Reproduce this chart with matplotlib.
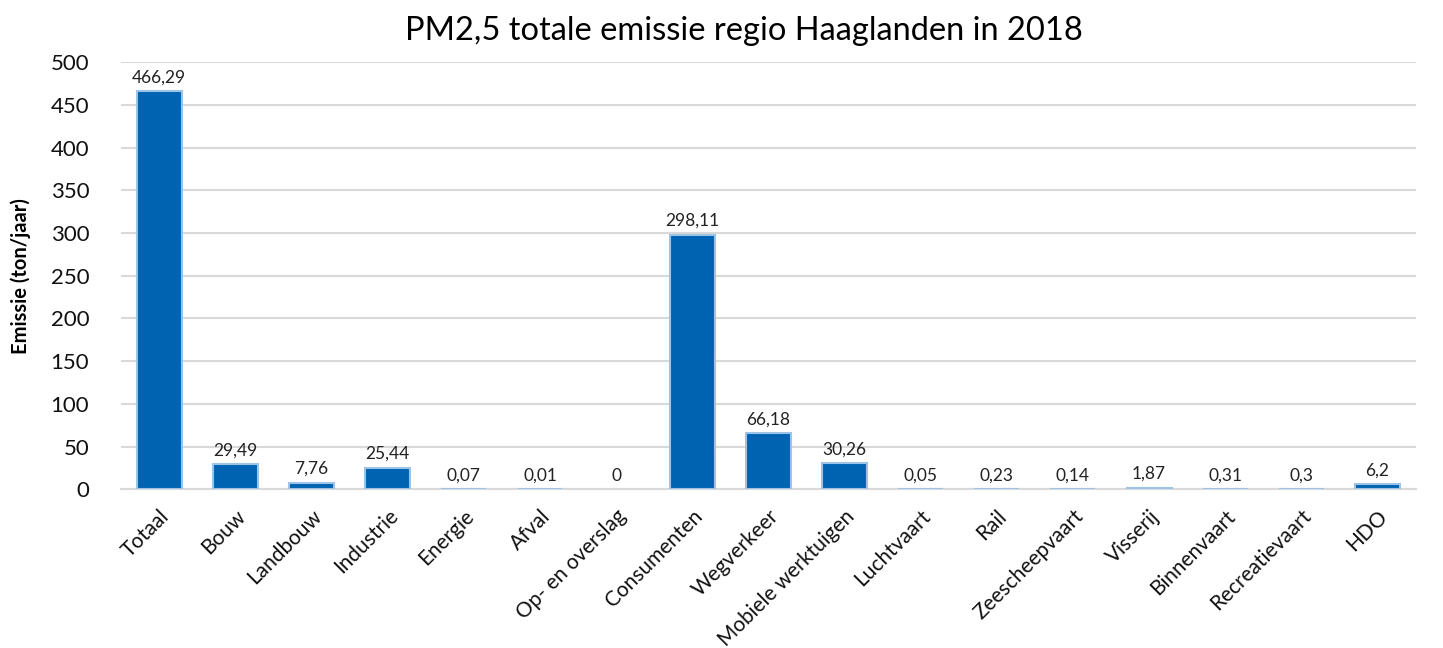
import matplotlib
matplotlib.use("Agg")
import matplotlib.pyplot as plt

# data
categories = ["Totaal", "Bouw", "Landbouw", "Industrie", "Energie", "Afval",
              "Op- en overslag", "Consumenten", "Wegverkeer", "Mobiele werktuigen",
              "Luchtvaart", "Rail", "Zeescheepvaart", "Visserij", "Binnenvaart",
              "Recreatievaart", "HDO"]
values = [466.29, 29.49, 7.76, 25.44, 0.07, 0.01, 0, 298.11, 66.18, 30.26,
          0.05, 0.23, 0.14, 1.87, 0.31, 0.3, 6.2]
yticks = [0, 50, 100, 150, 200, 250, 300, 350, 400, 450, 500]

plt.rcParams["font.family"] = ["Lato", "DejaVu Sans"]

fig = plt.figure(figsize=(14.43, 6.48), dpi=100)
ax = fig.add_axes([0.084, 0.245, 0.897, 0.659])

x = range(len(categories))
edges = ["#9DC3E6" if v > 0 else "none" for v in values]
ax.bar(x, values, width=0.59, color="#0063B1", edgecolor=edges,
       linewidth=1.5, zorder=3)

for xi, v in zip(x, values):
    lbl = f"{v:g}".replace(".", ",")
    ax.annotate(lbl, (xi, v), xytext=(0, 4), textcoords="offset points",
                ha="center", va="bottom", fontsize=12.5, color="#222222")

ax.set_xlim(-0.5, len(categories) - 0.5)
ax.set_ylim(0, 500)
ax.set_yticks(yticks)
ax.set_yticklabels([str(t) for t in yticks], fontsize=16)
ax.set_xticks(list(x))
ax.set_xticklabels(categories, rotation=45, ha="right", rotation_mode="anchor",
                   fontsize=15)
ax.tick_params(axis="both", length=0, colors="#111111")
ax.tick_params(axis="x", pad=12)
ax.tick_params(axis="y", pad=23)

ax.grid(axis="y", color="#D9D9D9", linewidth=1.5, zorder=0)
for s in ["top", "right", "left"]:
    ax.spines[s].set_visible(False)
ax.spines["bottom"].set_color("#D9D9D9")
ax.spines["bottom"].set_linewidth(1.5)
ax.spines["bottom"].set_zorder(2)

ax.set_ylabel("Emissie (ton/jaar)", fontsize=14.5, fontweight="bold", labelpad=14)
ax.set_title("PM2,5 totale emissie regio Haaglanden in 2018", fontsize=23.5,
             pad=16, x=0.481)

fig.savefig("out.png", dpi=100)
